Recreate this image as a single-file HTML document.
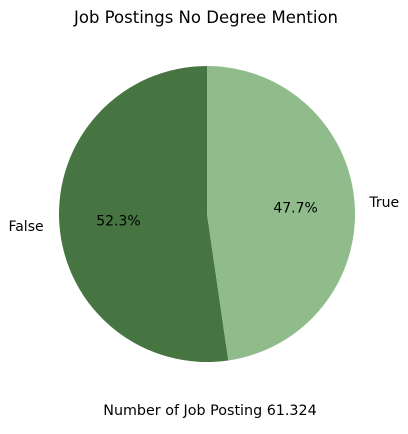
<!DOCTYPE html>
<html><head><meta charset="utf-8"><style>
html,body{margin:0;padding:0;background:#fff;}
svg text{font-family:"DejaVu Sans","Liberation Sans",sans-serif;fill:#000;}
</style></head><body>
<svg id="chart" width="408" height="429" viewBox="0 0 408 429">
<text x="206" y="23" text-anchor="middle" font-size="16.5">Job Postings No Degree Mention</text>
<g id="slices"></g>
<text x="210" y="415" text-anchor="middle" font-size="14.3">Number of Job Posting 61.324</text>
</svg>
<script>
const labels = ["False", "True"];
const values = [52.3, 47.7];
const colors = ["#467542", "#8fbc8a"];
const cx = 207, cy = 214, r = 148;
const g = document.getElementById('slices');
const ns = 'http://www.w3.org/2000/svg';
const total = values.reduce((a,b)=>a+b,0);
let start = 90;
function pt(angDeg, rad){const a=angDeg*Math.PI/180;return [cx+rad*Math.cos(a), cy-rad*Math.sin(a)];}
values.forEach((v,i)=>{
  const sweep = v/total*360;
  const end = start+sweep;
  const [x1,y1]=pt(start,r),[x2,y2]=pt(end,r);
  const p=document.createElementNS(ns,'path');
  p.setAttribute('d',`M${cx},${cy} L${x1},${y1} A${r},${r} 0 ${sweep>180?1:0} 0 ${x2},${y2} Z`);
  p.setAttribute('fill',colors[i]);
  
  
  g.appendChild(p);
  const mid=(start+end)/2;
  const [lx,ly]=pt(mid,r*1.1);
  const t=document.createElementNS(ns,'text');
  t.setAttribute('x',Math.cos(mid*Math.PI/180)<0?lx-1:lx);t.setAttribute('y',ly+5);
  t.setAttribute('font-size','14');
  t.setAttribute('text-anchor',Math.cos(mid*Math.PI/180)<0?'end':'start');
  t.textContent=labels[i];
  
  
  g.appendChild(t);
  const [px,py]=pt(mid,r*0.6);
  const q=document.createElementNS(ns,'text');
  q.setAttribute('x',px);q.setAttribute('y',py+5);
  q.setAttribute('font-size','14');q.setAttribute('text-anchor','middle');
  q.textContent=(v/total*100).toFixed(1)+'%';
  
  
  g.appendChild(q);
  start=end;
});
</script>
</body></html>
